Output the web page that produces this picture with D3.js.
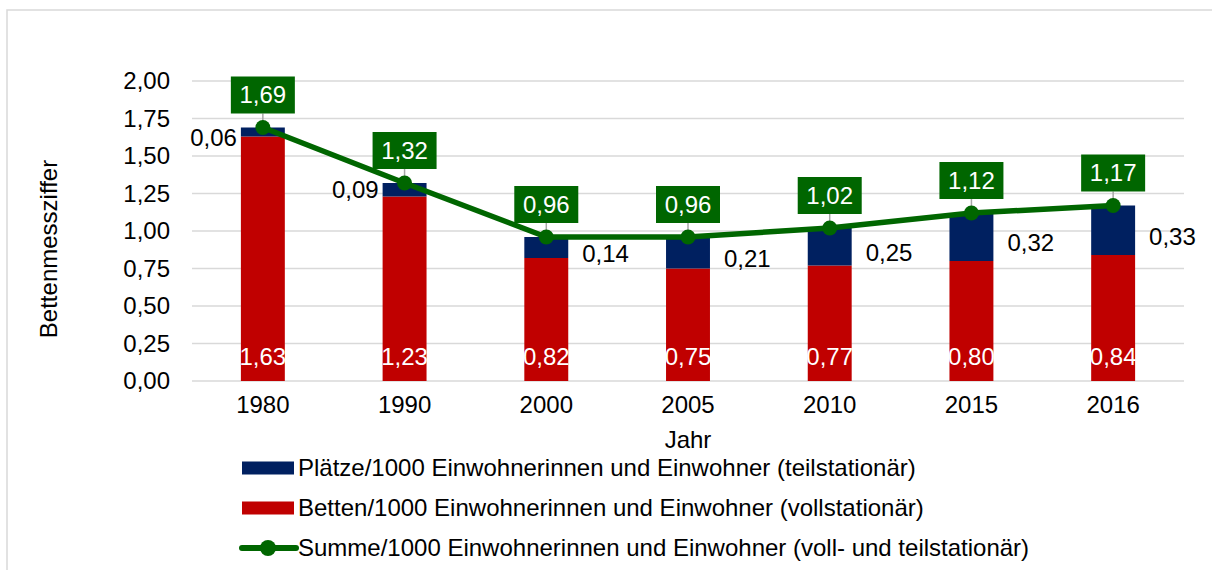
<!DOCTYPE html>
<html><head><meta charset="utf-8">
<script src="https://cdn.jsdelivr.net/npm/d3@7"></script>
<style>body{margin:0;background:#fff;}svg{display:block;font-family:"Liberation Sans",Arial,sans-serif;}</style>
</head><body><svg id="c" width="1212" height="570"></svg>
<script>
const years = ["1980","1990","2000","2005","2010","2015","2016"];
const betten = [1.63,1.23,0.82,0.75,0.77,0.80,0.84];
const plaetze = [0.06,0.09,0.14,0.21,0.25,0.32,0.33];
const summe = [1.69,1.32,0.96,0.96,1.02,1.12,1.17];
const yTicks = [0,0.25,0.5,0.75,1,1.25,1.5,1.75,2];
const legendLabels = [
  "Plätze/1000 Einwohnerinnen und Einwohner (teilstationär)",
  "Betten/1000 Einwohnerinnen und Einwohner (vollstationär)",
  "Summe/1000 Einwohnerinnen und Einwohner (voll- und teilstationär)"
];
const RED="#c00000", NAVY="#002060", GREEN="#006600", GRID="#d9d9d9";
const fmt = v => d3.format(".2f")(v).replace(".", ",");
const svg = d3.select("#c");
const FS = 24;

// frame
svg.append("rect").attr("x",7).attr("y",10).attr("width",1230).attr("height",600)
  .attr("fill","none").attr("stroke",GRID).attr("stroke-width",1.5);

const x = d3.scaleBand().domain(years).range([192,1184]).paddingInner(0.69).paddingOuter(0.345);
const y = d3.scaleLinear().domain([0,2]).range([381,81]);

// gridlines
svg.append("g").selectAll("line").data(yTicks).join("line")
  .attr("x1",192).attr("x2",1184).attr("y1",d=>y(d)).attr("y2",d=>y(d))
  .attr("stroke",GRID).attr("stroke-width",1.5);

// y axis
const yAxis = svg.append("g").attr("transform","translate(170,0)")
  .call(d3.axisLeft(y).tickValues(yTicks).tickFormat(fmt).tickSize(0).tickPadding(0));
yAxis.select(".domain").remove();
yAxis.selectAll("text").attr("font-size",FS).attr("fill","#000").attr("font-family","Liberation Sans, Arial, sans-serif");

// x axis
const xAxis = svg.append("g").attr("transform","translate(0,396)")
  .call(d3.axisBottom(x).tickSize(0).tickPadding(0));
xAxis.select(".domain").remove();
xAxis.selectAll("text").attr("font-size",FS).attr("fill","#000").attr("font-family","Liberation Sans, Arial, sans-serif");

// axis titles
svg.append("text").attr("x",688).attr("y",448).attr("text-anchor","middle").attr("font-size",FS).text("Jahr");
svg.append("text").attr("transform","translate(57,249) rotate(-90)").attr("text-anchor","middle").attr("font-size",FS).text("Bettenmessziffer");

// bars
const bw = x.bandwidth();
svg.append("g").selectAll("rect").data(years).join("rect")
  .attr("x",d=>x(d)).attr("width",bw)
  .attr("y",(d,i)=>y(betten[i])).attr("height",(d,i)=>y(0)-y(betten[i])).attr("fill",RED);
svg.append("g").selectAll("rect").data(years).join("rect")
  .attr("x",d=>x(d)).attr("width",bw)
  .attr("y",(d,i)=>y(betten[i]+plaetze[i])).attr("height",(d,i)=>y(betten[i])-y(betten[i]+plaetze[i])).attr("fill",NAVY);

// red labels (white, bottom inside)
svg.append("g").selectAll("text").data(years).join("text")
  .attr("x",d=>x(d)+bw/2).attr("y",y(0)-24).attr("dy","0.35em")
  .attr("text-anchor","middle").attr("font-size",FS).attr("fill","#fff")
  .text((d,i)=>fmt(betten[i]));

// navy labels
svg.append("g").selectAll("text").data(years).join("text")
  .attr("x",(d,i)=> i<2 ? x(d)-4 : x(d)+bw+14)
  .attr("y",(d,i)=>y(betten[i]+plaetze[i]/2)+(i===1?0:6)).attr("dy","0.35em")
  .attr("text-anchor",(d,i)=> i<2 ? "end" : "start")
  .attr("font-size",FS).attr("fill","#000")
  .text((d,i)=>fmt(plaetze[i]));

// line
const cx = d => x(d)+bw/2;
svg.append("path").datum(years)
  .attr("d", d3.line().x(cx).y((d,i)=>y(summe[i])))
  .attr("fill","none").attr("stroke",GREEN).attr("stroke-width",5.5).attr("stroke-linejoin","round");

// leader lines + boxes
const bxW=64, bxH=37, gap=14;
const lab = svg.append("g").selectAll("g").data(years).join("g");
lab.append("line").attr("x1",cx).attr("x2",cx)
  .attr("y1",(d,i)=>y(summe[i])-gap).attr("y2",(d,i)=>y(summe[i]))
  .attr("stroke","#a6a6a6").attr("stroke-width",1.5);
svg.append("g").selectAll("circle").data(years).join("circle")
  .attr("cx",cx).attr("cy",(d,i)=>y(summe[i])).attr("r",7.5).attr("fill",GREEN);
lab.append("rect").attr("x",d=>cx(d)-bxW/2).attr("y",(d,i)=>y(summe[i])-gap-bxH)
  .attr("width",bxW).attr("height",bxH).attr("fill",GREEN);
lab.append("text").attr("x",cx).attr("y",(d,i)=>y(summe[i])-gap-bxH/2).attr("dy","0.35em")
  .attr("text-anchor","middle").attr("font-size",FS).attr("fill","#fff")
  .text((d,i)=>fmt(summe[i]));

// legend
const lg = svg.append("g");
const rows = [468,508,548];
lg.append("rect").attr("x",242).attr("y",rows[0]-6.5).attr("width",52).attr("height",13).attr("fill",NAVY);
lg.append("rect").attr("x",242).attr("y",rows[1]-6.5).attr("width",52).attr("height",13).attr("fill",RED);
lg.append("line").attr("x1",242).attr("x2",296).attr("y1",rows[2]).attr("y2",rows[2])
  .attr("stroke",GREEN).attr("stroke-width",6).attr("stroke-linecap","round");
lg.append("circle").attr("cx",268).attr("cy",rows[2]).attr("r",8).attr("fill",GREEN);
lg.selectAll("text").data(legendLabels).join("text")
  .attr("x",298).attr("y",(d,i)=>rows[i]).attr("dy","0.35em")
  .attr("font-size",FS).attr("fill","#000").text(d=>d);
</script></body></html>
